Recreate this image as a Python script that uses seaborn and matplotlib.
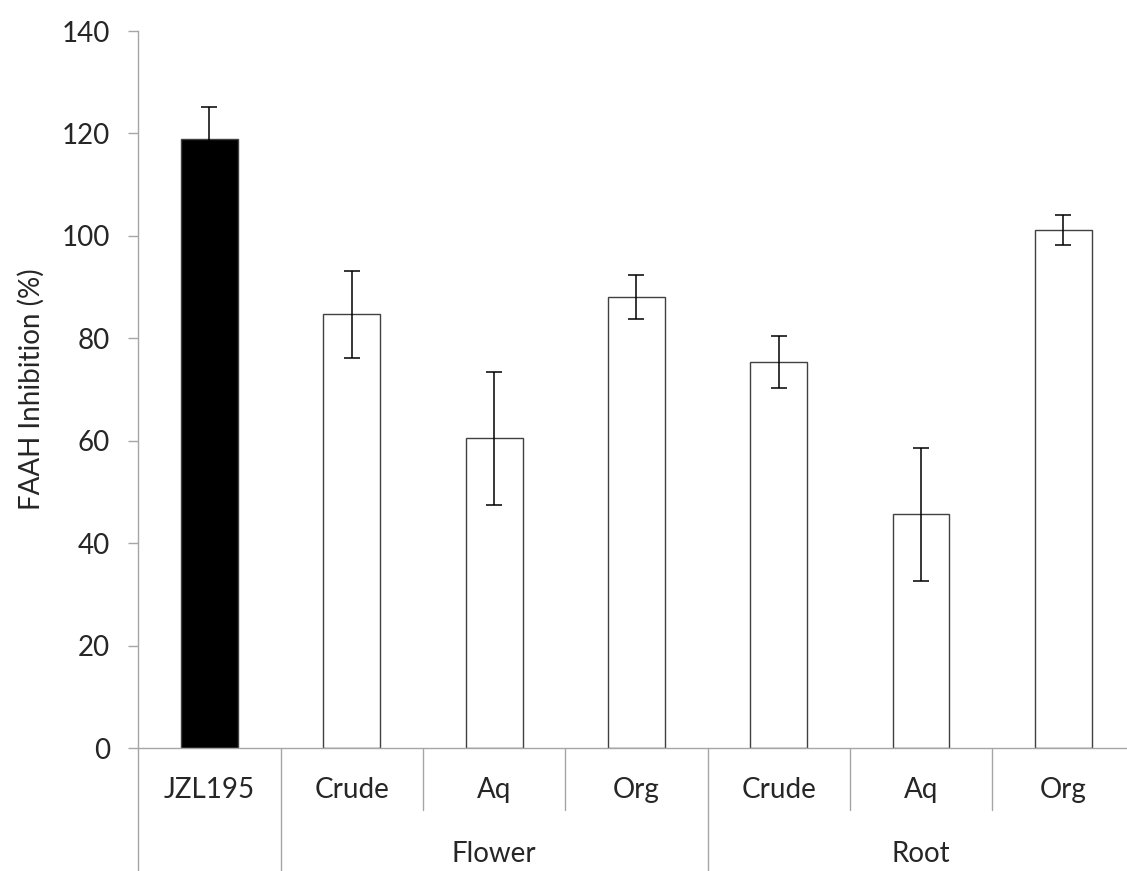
import matplotlib
matplotlib.use("Agg")
import matplotlib.pyplot as plt
import matplotlib.transforms as mtransforms
import seaborn as sns
import pandas as pd

# FAAH inhibition by treatment (mean and error)
treatments = ["JZL195", "Crude", "Aq", "Org", "Crude", "Aq", "Org"]
groups = ["", "Flower", "Flower", "Flower", "Root", "Root", "Root"]
inhibition = [119.0, 84.7, 60.5, 88.1, 75.4, 45.6, 101.2]
errors = [6.1, 8.5, 13.0, 4.3, 5.1, 13.0, 2.9]
bar_colors = ["black", "white", "white", "white", "white", "white", "white"]
group_names = ["Flower", "Root"]
y_ticks = [0, 20, 40, 60, 80, 100, 120, 140]

sns.set_style("white")
plt.rcParams["font.family"] = ["Lato", "DejaVu Sans"]

keys = [f"{g} {t}".strip() for g, t in zip(groups, treatments)]
df = pd.DataFrame({"key": keys, "inhibition": inhibition, "err": errors})

fig = plt.figure(figsize=(11.27, 8.71), dpi=100)
ax = fig.add_axes([138.3 / 1127, 1 - 748 / 871, 996.2 / 1127, 717 / 871])

sns.barplot(data=df, x="key", y="inhibition", hue="key",
            palette=dict(zip(keys, bar_colors)), edgecolor="#404040",
            linewidth=1.0, width=0.4, errorbar=None, legend=False, ax=ax)

ax.errorbar(range(len(keys)), df["inhibition"], yerr=df["err"], fmt="none",
            ecolor="black", elinewidth=1.1, capsize=5.5, capthick=1.1)

axis_grey = "#A6A6A6"
ax.set_xlim(-0.5, len(keys) - 0.5)
ax.set_ylim(0, 140)
ax.set_yticks(y_ticks)
ax.tick_params(axis="y", direction="out", length=7.2, width=1.0,
               color=axis_grey, labelsize=20, pad=13, left=True)
ax.set_xticks([])
ax.set_xlabel("")
for s in ["top", "right"]:
    ax.spines[s].set_visible(False)
for s in ["left", "bottom"]:
    ax.spines[s].set_color(axis_grey)
    ax.spines[s].set_linewidth(1.0)

ax.set_ylabel("FAAH Inhibition (%)", fontsize=20)
ax.yaxis.set_label_coords(-0.094, 0.5)

# Two-level category axis below the plot
trans = mtransforms.blended_transform_factory(ax.transData, ax.transAxes)
for i, t in enumerate(treatments):
    ax.text(i, -0.0586, t, transform=trans, ha="center", va="center",
            fontsize=20, clip_on=False)
for gi, g in enumerate(group_names):
    idx = [i for i, gg in enumerate(groups) if gg == g]
    ax.text((idx[0] + idx[-1]) / 2, -0.148, g, transform=trans,
            ha="center", va="center", fontsize=20, clip_on=False)

boundaries = [-0.5 + i for i in range(len(keys) + 1)]
for b in boundaries:
    left_i = int(b - 0.5)
    right_i = int(b + 0.5)
    inner = (0 <= left_i < len(keys) and 0 <= right_i < len(keys)
             and groups[left_i] == groups[right_i] and groups[left_i] != "")
    y_end = -0.0865 if inner else -0.18
    ax.plot([b, b], [0, y_end], transform=trans, color=axis_grey,
            linewidth=1.0, clip_on=False)

fig.savefig("out.png", dpi=100)
